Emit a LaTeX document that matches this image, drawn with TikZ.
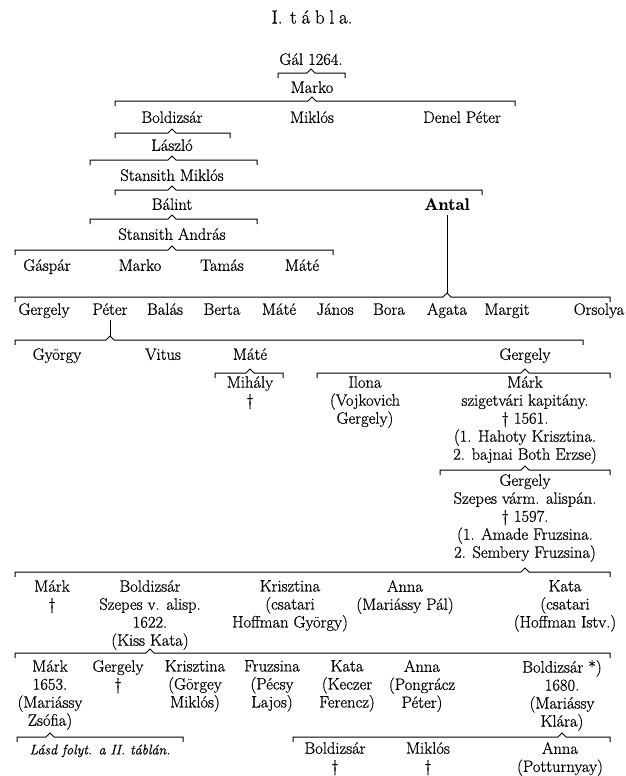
\documentclass[tikz,border=0pt]{standalone}
\usepackage{fontspec}
\setmainfont{Latin Modern Roman}[FakeBold=0.7]
\usetikzlibrary{calc}
\newcommand\nfont{\fontsize{16.5}{18}\selectfont}
\newcommand\famline[4]{%
  \coordinate (P) at (#1 |- 0,#4);
  \draw[brk] (#2,#4+5) -- (#2,#4) -- ([xshift=-4pt]P) -- ([yshift=4pt]P) -- ([xshift=4pt]P) -- (#3,#4) -- (#3,#4+5);}
\tikzset{
  p/.style={anchor=north, inner sep=0pt, align=center, font=\nfont, execute at begin node=\strut},
  brk/.style={line width=1pt, line join=miter},
  vline/.style={line width=1pt}
}
\begin{document}
\begin{tikzpicture}[x=1pt,y=-1pt]
\fill[white] (0,0) rectangle (625,776);
\useasboundingbox (0,0) rectangle (625,776);
\node[inner sep=0pt, font=\fontsize{19}{22}\selectfont] (title) at (312,17) {I.\hspace{0.4em}t\hspace{0.25em}á\hspace{0.25em}b\hspace{0.25em}l\hspace{0.25em}a.};
% generations
\node[p] (gal) at (311,52) {Gál 1264.};
\node[p] (marko0) at (312,80) {Marko};
\node[p] (boldizsar1) at (172,110) {Boldizsár};
\node[p] (miklos1) at (312,110) {Miklós};
\node[p] (denel) at (462,110) {Denel Péter};
\node[p] (laszlo) at (172,138) {László};
\node[p] (stmiklos) at (172,168) {Stansith Miklós};
\node[p] (balint) at (172,197) {Bálint};
\node[p,font=\nfont\bfseries] (antal) at (447,197) {Antal};
\node[p] (standras) at (172,227) {Stansith András};
\node[p] (gaspar) at (47,258) {Gáspár};
\node[p] (marko2) at (140,258) {Marko};
\node[p] (tamas) at (222,258) {Tamás};
\node[p] (mate1) at (302,258) {Máté};
\node[p] (gergely1) at (44,302) {Gergely};
\node[p] (peter) at (110,302) {Péter};
\node[p] (balas) at (165,302) {Balás};
\node[p] (berta) at (222,302) {Berta};
\node[p] (mate2) at (279,302) {Máté};
\node[p] (janos) at (335,302) {János};
\node[p] (bora) at (389,302) {Bora};
\node[p] (agata) at (447,302) {Agata};
\node[p] (margit) at (507,302) {Margit};
\node[p] (orsolya) at (599,302) {Orsolya};
\node[p] (gyorgy) at (57,347) {György};
\node[p] (vitus) at (163,347) {Vitus};
\node[p] (mate3) at (250,347) {Máté};
\node[p] (gergely2) at (525,347) {Gergely};
\node[p] (mihaly) at (250,376) {Mihály\\\textdagger};
\node[p] (ilona) at (365,376) {Ilona\\(Vojkovich\\Gergely)};
\node[p] (mark1) at (525,376) {Márk\\szigetvári kapitány.\\\textdagger\ 1561.\\(1. Hahoty Krisztina.\\2. bajnai Both Erzse)};
\node[p] (gergely3) at (525,474) {Gergely\\Szepes várm. alispán.\\\textdagger\ 1597.\\(1. Amade Fruzsina.\\2. Sembery Fruzsina)};
\node[p] (mark2) at (52,580) {Márk\\\textdagger};
\node[p] (boldizsar2) at (150,580) {Boldizsár\\Szepes v. alisp.\\1622.\\(Kiss Kata)};
\node[p] (krisztina1) at (290,580) {Krisztina\\(csatari\\Hoffman György)};
\node[p] (anna1) at (405,580) {Anna\\(Mariássy Pál)};
\node[p] (kata1) at (565,580) {Kata\\(csatari\\(Hoffman Istv.)};
\node[p] (mark3) at (50,660) {Márk\\1653.\\(Mariássy\\Zsófia)};
\node[p] (gergely4) at (118,660) {Gergely\\\textdagger};
\node[p] (krisztina2) at (195,660) {Krisztina\\(Görgey\\Miklós)};
\node[p] (fruzsina) at (272,660) {Fruzsina\\(Pécsy\\Lajos)};
\node[p] (kata2) at (347,660) {Kata\\(Keczer\\Ferencz)};
\node[p] (anna2) at (422,660) {Anna\\(Pongrácz\\Péter)};
\node[p] (boldizsar3) at (562,660) {Boldizsár *)\\1680.\\(Mariássy\\Klára)};
\node[p,font=\fontsize{14}{16}\selectfont\itshape] (lasd) at (100,743) {Lásd folyt. a II. táblán.};
\node[p] (boldizsar4) at (335,742) {Boldizsár\\\textdagger};
\node[p] (miklos2) at (428,742) {Miklós\\\textdagger};
\node[p] (anna3) at (560,742) {Anna\\(Potturnyay)};
% family brackets
\famline{gal}{278}{345}{73}
\famline{marko0}{115}{515}{101}
\famline{boldizsar1}{115}{230}{133}
\famline{laszlo}{90}{257}{160}
\famline{stmiklos}{115}{482}{190}
\famline{balint}{90}{257}{219}
\famline{standras}{15}{333}{250}
\famline{antal}{15}{610}{297}
\draw[vline] (antal.south) -- ([yshift=4pt]P);
\famline{peter}{15}{583}{340}
\draw[vline] (peter.south) -- ([yshift=4pt]P);
\famline{mate3}{215}{283}{373}
\famline{gergely2}{317}{610}{373}
\famline{mark1}{440}{610}{470}
\famline{gergely3}{15}{610}{572}
\famline{boldizsar2}{15}{610}{653}
\famline{mark3}{17}{183}{737}
\famline{boldizsar3}{293}{610}{737}
\end{tikzpicture}
\end{document}
